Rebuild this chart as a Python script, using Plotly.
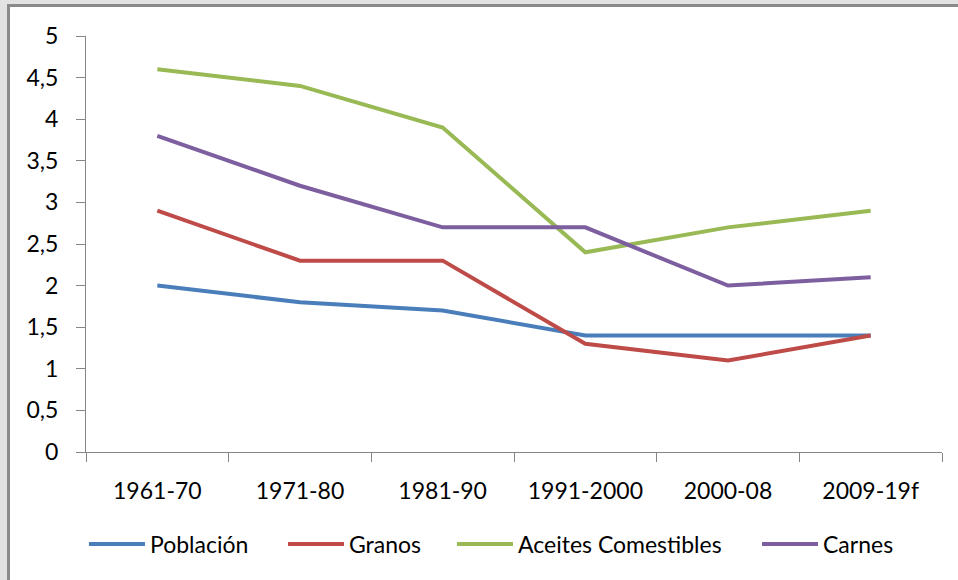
import plotly.graph_objects as go

# datos
periodos = ["1961-70", "1971-80", "1981-90", "1991-2000", "2000-08", "2009-19f"]
poblacion = [2.0, 1.8, 1.7, 1.4, 1.4, 1.4]
granos = [2.9, 2.3, 2.3, 1.3, 1.1, 1.4]
aceites = [4.6, 4.4, 3.9, 2.4, 2.7, 2.9]
carnes = [3.8, 3.2, 2.7, 2.7, 2.0, 2.1]

y_ticks = [0, 0.5, 1, 1.5, 2, 2.5, 3, 3.5, 4, 4.5, 5]
y_labels = ["0", "0,5", "1", "1,5", "2", "2,5", "3", "3,5", "4", "4,5", "5"]

series = [
    ("Población", poblacion, "#4a7ebb"),
    ("Granos", granos, "#be4b48"),
    ("Aceites Comestibles", aceites, "#98b954"),
    ("Carnes", carnes, "#7d5fa0"),
]
# inicio (px) de cada muestra de la leyenda
legend_x = [90, 289, 458, 763]

W, H = 958, 580
L, R, T, B = 86, 16, 36, 128
pw, ph = W - L - R, H - T - B


def px(x):
    return (x - L) / pw


def py(y):
    return (H - B - y) / ph


fig = go.Figure()
legends = {}
for i, (nombre, vals, color) in enumerate(series):
    key = "legend" if i == 0 else f"legend{i + 1}"
    fig.add_trace(go.Scatter(
        x=periodos, y=vals, name=nombre, mode="lines",
        line=dict(color=color, width=4), legend=key,
    ))
    legends[key] = dict(orientation="h", x=px(legend_x[i] - 6), xanchor="left",
                        y=py(544), yanchor="middle", itemwidth=56,
                        bgcolor="rgba(0,0,0,0)", font=dict(size=23))

# marco gris de la captura (arriba e izquierda)
shapes = [
    dict(type="rect", xref="paper", yref="paper", x0=px(0), x1=px(W), y0=py(0), y1=py(4),
         fillcolor="#e2e2e2", line_width=0, layer="above"),
    dict(type="rect", xref="paper", yref="paper", x0=px(0), x1=px(7), y0=py(0), y1=py(H),
         fillcolor="#e2e2e2", line_width=0, layer="above"),
    dict(type="rect", xref="paper", yref="paper", x0=px(7), x1=px(W), y0=py(4), y1=py(7),
         fillcolor="#8a8a8a", line_width=0, layer="above"),
    dict(type="rect", xref="paper", yref="paper", x0=px(7), x1=px(10), y0=py(4), y1=py(H),
         fillcolor="#8a8a8a", line_width=0, layer="above"),
]

fig.update_layout(
    width=W, height=H,
    margin=dict(l=L, r=R, t=T, b=B, autoexpand=False),
    paper_bgcolor="white", plot_bgcolor="white",
    font=dict(family="Lato, Open Sans, sans-serif", size=23, color="#000000"),
    showlegend=True,
    xaxis=dict(type="category", range=[-0.5, 5.5], tickson="boundaries",
               showline=True, linecolor="#868686", linewidth=1,
               ticks="outside", ticklen=9, tickcolor="#868686",
               showgrid=False, zeroline=False, ticklabelstandoff=18),
    yaxis=dict(range=[0, 5], tickvals=y_ticks, ticktext=y_labels,
               showline=True, linecolor="#868686", linewidth=1,
               ticks="outside", ticklen=9, tickcolor="#868686",
               showgrid=False, zeroline=False, ticklabelstandoff=13),
    shapes=shapes,
    **legends,
)

fig.write_html("out.html", config={"displayModeBar": False},
               post_script="document.body.style.margin='0';")
